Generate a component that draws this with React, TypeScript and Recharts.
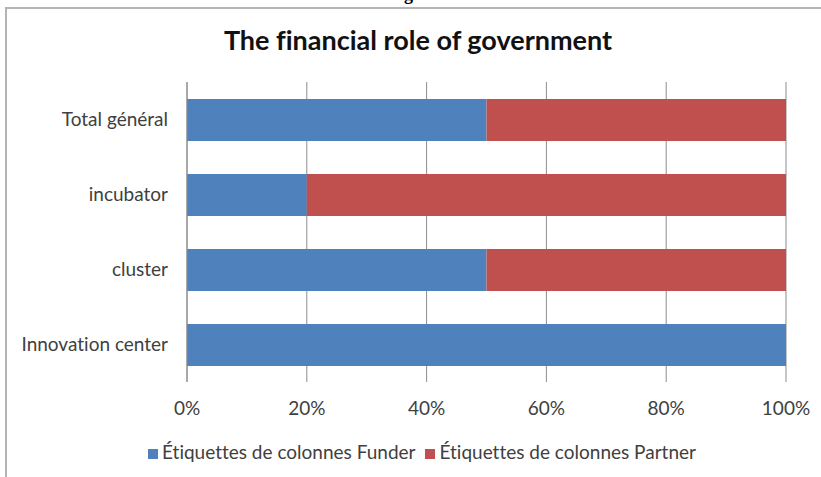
import { BarChart, Bar, XAxis, YAxis, CartesianGrid, Legend } from "recharts";

const categories = ["Total général", "incubator", "cluster", "Innovation center"];
const funder = [50, 20, 50, 100];
const partner = [50, 80, 50, 0];
const xTicks = [0, 20, 40, 60, 80, 100];

const data = categories.map((name, i) => ({
  name,
  funder: funder[i],
  partner: partner[i],
}));

const FONT = "Lato, 'Open Sans', sans-serif";

export default function App() {
  return (
    <div
      style={{
        position: "fixed",
        left: 0,
        top: 0,
        width: 821,
        height: 477,
        background: "#fff",
        overflow: "hidden",
        fontVariantLigatures: "none",
      }}
    >
      <div
        style={{
          position: "absolute",
          top: -16,
          left: 0,
          width: 840,
          textAlign: "center",
          fontFamily: "'Liberation Serif', serif",
          fontWeight: "bold",
          fontSize: 18,
        }}
      >
        Figure 1
      </div>
      <div
        style={{
          position: "absolute",
          left: 5,
          top: 7,
          width: 830,
          height: 490,
          border: "2px solid #b4b4b4",
          boxSizing: "border-box",
        }}
      />
      <div
        style={{
          position: "absolute",
          top: 23,
          left: 0,
          width: 836,
          textAlign: "center",
          fontFamily: FONT,
          fontWeight: "bold",
          fontSize: 27,
          color: "#111",
        }}
      >
        The financial role of government
      </div>
      <div style={{ position: "absolute", left: 0, top: 0 }}>
        <BarChart
          width={821}
          height={477}
          data={data}
          layout="vertical"
          margin={{ top: 82, right: 35, left: 0, bottom: 0 }}
          barSize={42}
        >
          <CartesianGrid horizontal={false} stroke="#8c8c8c" />
          <XAxis
            type="number"
            domain={[0, 100]}
            ticks={xTicks}
            tickFormatter={(v) => `${v}%`}
            axisLine={false}
            tickLine={false}
            tickSize={0}
            tickMargin={20}
            height={95}
            tick={{ fill: "#404040", fontSize: 19, fontFamily: FONT }}
          />
          <YAxis
            type="category"
            dataKey="name"
            width={187}
            axisLine={{ stroke: "#8c8c8c" }}
            tickLine={false}
            tickSize={0}
            tickMargin={19}
            tick={{ fill: "#404040", fontSize: 19, fontFamily: FONT }}
          />
          <Legend
            verticalAlign="middle"
            align="center"
            iconType="square"
            iconSize={10}
            wrapperStyle={{ top: 440, left: 34, fontFamily: FONT, fontSize: 19 }}
            formatter={(value) => <span style={{ color: "#404040" }}>{value}</span>}
          />
          <Bar dataKey="funder" name="Étiquettes de colonnes Funder" stackId="a" fill="#4f81bd" isAnimationActive={false} />
          <Bar dataKey="partner" name="Étiquettes de colonnes Partner" stackId="a" fill="#c0504d" isAnimationActive={false} />
        </BarChart>
      </div>
    </div>
  );
}
